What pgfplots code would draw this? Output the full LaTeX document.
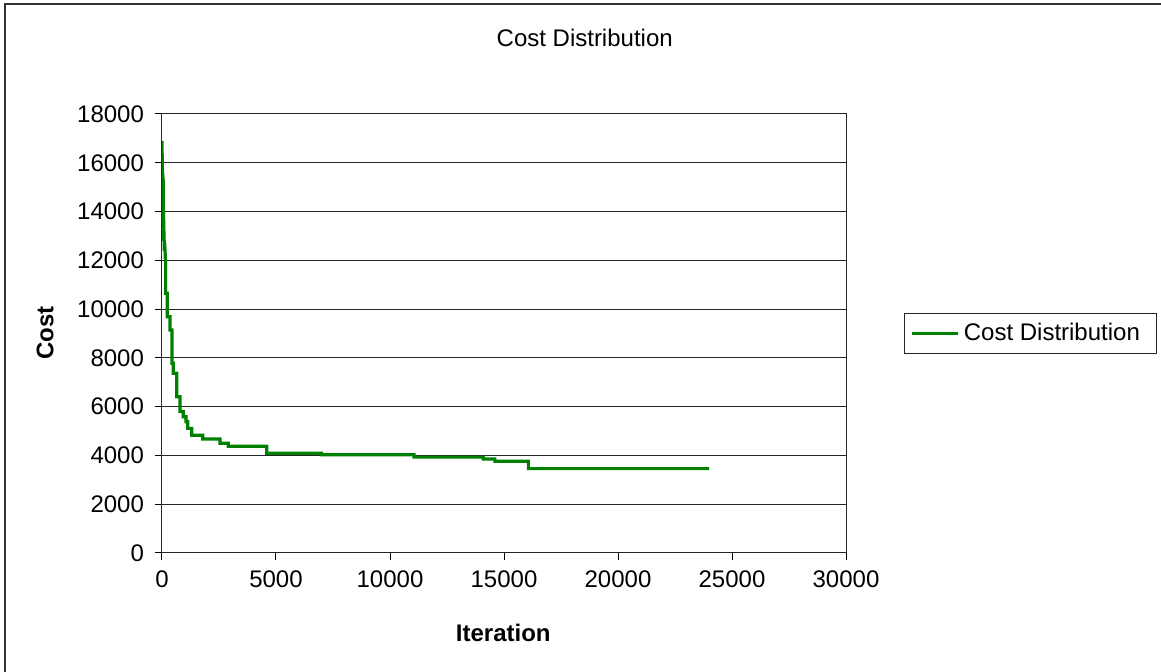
\documentclass[border=0pt]{standalone}
\usepackage{fontspec}
\setmainfont{Liberation Sans}
\usepackage{pgfplots}
\pgfplotsset{compat=1.18}

\definecolor{costgreen}{RGB}{0,128,0}

\begin{document}
\begin{tikzpicture}[font=\fontsize{12}{14}\selectfont]
\useasboundingbox (-81pt,-59.5pt) rectangle (499.5pt,276.5pt);
\draw[black!80, line width=0.6pt] (-78.5pt,-80pt) -- (-78.5pt,274.5pt) -- (520pt,274.5pt);

\begin{axis}[%
at={(0pt,0pt)},
anchor=south west,
width=342pt,
height=219.5pt,
scale only axis,
xmin=0,
xmax=30000,
ymin=0,
ymax=18000,
xtick={0,5000,10000,15000,20000,25000,30000},
ytick={0,2000,4000,6000,8000,10000,12000,14000,16000,18000},
/pgf/number format/1000 sep={},
/pgf/number format/assume math mode=true,
scaled ticks=false,
tick align=outside,
major tick length=3.5pt,
xtick pos=left,
ytick pos=left,
tick style={black, line width=0.5pt},
axis line style={black!85, line width=0.5pt},
ymajorgrids,
major grid style={black!85, line width=0.5pt},
yticklabel style={xshift=-2pt},
xticklabel style={yshift=-2pt},
title={Cost Distribution},
title style={at={(0.618,1.146)}, anchor=center},
xlabel={\bfseries Iteration},
xlabel style={at={(0.499,-0.182)}, anchor=center},
ylabel={\bfseries Cost},
ylabel style={at={(-0.171,0.501)}, anchor=center},
legend style={at={(1.085,0.547)}, anchor=north west, draw=black!85, line width=0.5pt, inner xsep=3pt, inner ysep=3pt, font=\fontsize{12}{14}\selectfont},
legend cell align=left,
legend image code/.code={\draw[#1] (0pt,0pt) -- (23pt,0pt);},
]
\addplot [color=costgreen, line width=1.6pt]
table[row sep=crcr]{
0 16900\\
20 15300\\
30 15600\\
40 14200\\
50 15400\\
60 13500\\
70 14000\\
80 12800\\
90 13200\\
100 12400\\
120 12700\\
150 12000\\
160 12000\\
160 10650\\
234 10650\\
234 9690\\
351 9690\\
351 9140\\
439 9140\\
439 7780\\
497 7780\\
497 7370\\
643 7370\\
643 6410\\
789 6410\\
789 5800\\
936 5800\\
936 5590\\
1053 5590\\
1053 5380\\
1126 5380\\
1126 5110\\
1301 5110\\
1301 4830\\
1784 4830\\
1784 4670\\
2544 4670\\
2544 4500\\
2910 4500\\
2910 4380\\
4590 4380\\
4590 4090\\
7000 4090\\
7000 4030\\
11050 4030\\
11050 3930\\
14090 3930\\
14090 3850\\
14600 3850\\
14600 3760\\
16070 3760\\
16070 3460\\
24000 3460\\
};
\addlegendentry{Cost Distribution\kern3.5pt}
\end{axis}
\end{tikzpicture}
\end{document}
